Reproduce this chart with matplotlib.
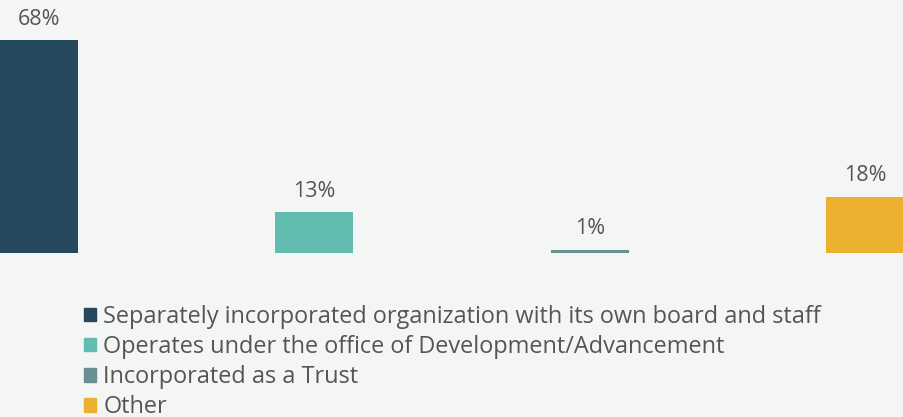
import matplotlib.pyplot as plt
from matplotlib.patches import Patch

categories = ['Separately incorporated organization with its own board and staff',
              'Operates under the office of Development/Advancement',
              'Incorporated as a Trust',
              'Other']
values = [68, 13, 1, 18]
colors = ['#24485c', '#63bcb0', '#6a8f93', '#ecb22f']
bg = '#f4f6f5'

plt.rcParams['font.family'] = ['Open Sans', 'DejaVu Sans']

fig = plt.figure(figsize=(9.04, 4.17), dpi=100, facecolor=bg)
ax = fig.add_axes([0, (417 - 253) / 417, 1, (253 - 40) / 417])
ax.set_facecolor(bg)

w = 78 / 276
x = list(range(len(values)))
ax.bar(x, values, width=w, color=colors)
for xi, v in zip(x, values):
    ax.annotate(f'{v}%', (xi, v), xytext=(0, 7.5), textcoords='offset points',
                ha='center', va='bottom', fontsize=15.5, color='#555555')

ax.set_xlim(-w / 2, 3 + w / 2)
ax.set_ylim(0, 68)
ax.axis('off')

handles = [Patch(color=c) for c in colors]
fig.legend(handles, categories, loc='upper left', bbox_to_anchor=(84 / 904, 1 - 305 / 417),
           frameon=False, fontsize=16.9, labelcolor='#555555', handlelength=0.5, handleheight=0.5,
           handletextpad=0.33, labelspacing=0.26, borderpad=0, borderaxespad=0)

fig.savefig('out.png', facecolor=bg)
